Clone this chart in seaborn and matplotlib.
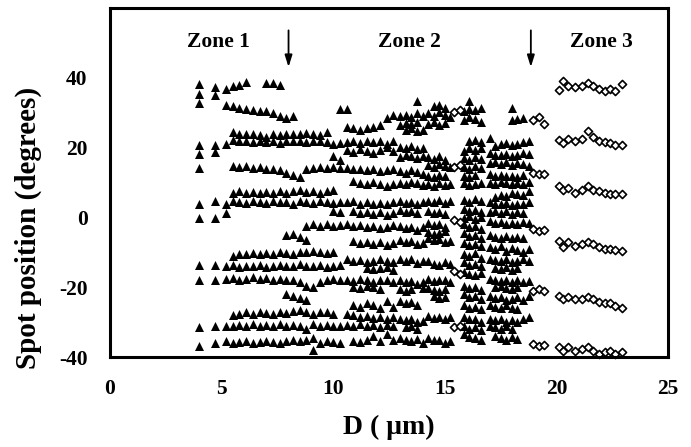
import numpy as np
import pandas as pd
import seaborn as sns
import matplotlib.pyplot as plt
from matplotlib.ticker import MultipleLocator

sns.set_style("white")
plt.rcParams['font.family'] = ['Liberation Serif', 'DejaVu Serif']
plt.rcParams['font.weight'] = 'bold'
plt.rcParams['axes.labelweight'] = 'bold'
plt.rcParams['text.color'] = 'black'
plt.rcParams['axes.labelcolor'] = 'black'
plt.rcParams['xtick.color'] = 'black'
plt.rcParams['ytick.color'] = 'black'
plt.rcParams['axes.unicode_minus'] = False

nan = np.nan

# ---- Zone 1: two sparse columns on the left ----
col_a_x = 4.0
col_a_y = [38.3, 35.5, 32.8, 20.7, 18.1, 14.1, 4.0, 0.0, -13.5, -17.8, -31.4, -36.8]
col_b_x = 4.7
col_b_y = [37.4, 35.1, 20.7, 18.7, 4.6, 0.0, -13.5, -17.8, -31.1, -36.0]

# ---- Zone 1 bands (x columns, one y per column, nan = no spot) ----
z1_x = [5.2, 5.5, 5.8, 6.1, 6.4, 6.7, 7.0, 7.3, 7.6, 7.9, 8.2, 8.5, 8.8, 9.1, 9.4, 9.7, 10.0, 10.3]
z1_rows = [
    [36.8, 37.8, 38.0, 38.8, nan, nan, 38.5, 38.6, 38.0] + [nan] * 9,
    [32.2, 31.8, 31.5, 31.0, 30.8, 30.5, 30.5, 30.0, 29.2, 28.6, 29.0] + [nan] * 6 + [31.2],
    [nan, 24.5, 23.8, 23.8, 24.0, 23.5, 23.2, 23.8, 23.5, 23.8, 24.0, 24.0, 24.2, 24.0, 23.5, 24.5, nan, nan],
    [21.0, 22.2, 22.0, 21.8, 21.5, 22.0, 21.5, 21.8, 21.2, 22.0, 21.8, 22.0, 21.5, 22.0, 21.8, 21.5, 21.0, 21.2],
    [nan] * 16 + [17.5, 16.5],
    [nan, 14.8, 14.5, 14.8, 14.3, 14.5, 14.0, 13.8, 13.5, 12.8, 12.3, 11.5, 14.0, 14.3, 14.5, 14.3, 14.5, 14.2],
    [nan, 7.0, 7.5, 7.0, 7.2, 7.0, 7.2, 7.0, 7.5, 7.0, 7.5, 7.8, 7.2, 7.5, 7.0, 7.5, 8.0, nan],
    [4.0, 4.8, 4.5, 4.2, 4.8, 4.5, 4.2, 4.6, 4.3, 4.5, 4.0, 4.8, 4.5, 4.2, 4.6, 4.5, 4.2, 4.5],
    [1.4] + [nan] * 15 + [1.8, 1.5],
    [nan] * 12 + [-2.5, -2.0, -2.3, -2.0, -2.5, -2.2],
    [nan] * 9 + [-5.0, -4.8, -5.5, -6.5] + [nan] * 5,
    [nan, -11.0, -10.5, -10.5, -10.2, -10.5, -10.3, -10.5, -10.0, -10.3, -10.5, -9.8, -10.0, -9.5, -10.0, -10.2, -10.0, nan],
    [-13.8, -13.5, -14.2, -13.8, -14.0, -13.6, -14.2, -13.8, -13.5, -14.0, -13.8, -13.2, -13.8, -14.0, -13.5, -14.2, -13.8, -13.5],
    [-17.5, -17.2, -17.8, -17.5, -17.0, -17.6, -17.3, -17.8, -17.5, -17.8, -18.0, -18.5, -19.5, -20.0, -18.5, -18.0, -17.5, -18.0],
    [nan] * 9 + [-22.0, -22.5, -23.0, -23.5] + [nan] * 5,
    [nan, -27.8, -27.5, -27.2, -27.5, -27.0, -27.3, -27.5, -27.0, -27.3, -26.8, -26.5, -27.0, -27.5, -27.2, -27.0, -27.5, nan],
    [-31.0, -31.2, -30.8, -31.0, -30.6, -31.2, -30.8, -31.0, -30.5, -31.0, -30.8, -31.2, -32.0, -30.5, -31.0, -30.8, -31.2, -31.0],
    [-35.5, -36.0, -35.8, -35.5, -36.0, -35.7, -35.3, -35.8, -36.0, -35.5, -35.0, -35.5, -35.2, -34.5, -36.0, -35.5, -35.8, -36.0],
    [nan] * 13 + [-38.0] + [nan] * 4,
]

# ---- Zone 2 clusters ----
c1_x = [10.6, 10.9, 11.2, 11.5, 11.8, 12.1, 12.4, 12.7]
c1_rows = [
    [31.0] + [nan] * 7,
    [25.8, 25.5, 25.2, 25.5, 25.8, 26.5, 28.5, 29.4],
    [21.5, 22.0, 21.2, 21.8, 21.5, 22.0, 21.0, 21.8],
    [19.2, 18.8, 19.5, 19.0, 18.5, 19.2, 20.2, 19.0],
    [14.2, 13.8, 14.0, 13.5, 13.8, 13.2, 13.5, 14.0],
    [nan, 10.5, 10.0, 9.5, 10.2, 9.6, 9.0, 9.5],
    [4.3, 4.6, 4.0, 4.5, 3.8, 4.2, 3.8, 4.5],
    [nan, 1.8, 1.2, 1.6, 1.0, 1.5, 0.8, 1.2],
    [-2.0, -2.5, -2.2, -2.8, -2.5, -3.0, -2.6, -2.2],
    [nan, -6.8, -7.2, -7.0, -7.5, -7.0, -7.8, -7.2],
    [-12.0, -12.5, -12.2, -12.8, -12.5, -12.0, -12.4, -12.8],
    [nan, nan, nan, -14.5, -14.8, -14.5, -14.2, -15.0],
    [-17.8, -18.2, -17.5, -18.0, -18.5, -17.8, -18.0, -18.4],
    [nan, -19.8, -20.3, -19.6, -20.0, -20.5, nan, nan],
    [nan, -25.0, -25.5, -24.5, -25.2, -25.8, -24.0, -25.5],
    [-27.5, -28.0, -28.5, -28.2, -28.8, -28.5, -29.0, -28.4],
    [-30.8, -31.0, -30.5, -31.2, -30.8, -31.5, -30.8, -31.0],
    [nan, -35.5, -35.8, -35.2, -34.0, -35.5, -33.5, -35.2],
]

c2_x = [13.0, 13.25, 13.5, 13.75, 14.0]
c2_rows = [
    [nan, nan, nan, 33.4, nan],
    [29.0, 29.5, 28.8, 29.8, 29.2],
    [26.5, 27.2, 26.8, 27.5, nan],
    [nan, 25.0, 25.5, 24.8, 25.2],
    [20.2, 19.8, 20.5, 19.6, 20.0],
    [17.2, 17.8, 17.5, 17.0, 17.6],
    [13.2, 12.8, 13.5, 13.0, 12.6],
    [10.0, 9.5, 10.3, 9.8, 9.2],
    [4.8, 4.2, 4.5, 3.8, 4.3],
    [2.2, 1.6, 2.0, 1.4, nan],
    [-2.5, -3.0, -2.8, -3.5, -2.6],
    [-6.5, -7.0, -6.8, -7.5, -7.2],
    [-11.8, -12.5, -12.0, -13.0, -12.6],
    [-18.0, -18.6, -18.2, -19.0, -18.5],
    [-20.4, -21.0, -20.6, nan, -20.2],
    [-24.0, -24.6, -24.2, -25.0, nan],
    [-29.0, -29.5, -29.2, -30.0, -29.6],
    [nan, -31.5, -31.0, -31.8, nan],
    [-34.5, -35.0, -35.5, -34.8, -36.0],
]

c3_x = [14.25, 14.5, 14.75, 15.0, 15.25]
c3_rows = [
    [nan, 31.8, 32.2, 31.5, nan],
    [29.8, 29.0, 30.2, 29.5, 28.8],
    [26.8, 27.5, 26.5, 27.2, nan],
    [17.2, 16.8, 17.5, 16.5, nan],
    [15.0, 14.5, 15.2, 14.8, 14.5],
    [12.0, 11.5, 12.2, 11.8, nan],
    [9.5, 9.0, 9.8, 9.2, 9.6],
    [4.8, 4.5, 5.0, 4.2, 4.6],
    [1.8, 1.2, 1.5, 1.0, nan],
    [-1.5, -2.2, -2.0, -2.8, nan],
    [-4.2, -4.8, -4.5, -4.0, nan],
    [-6.0, -6.5, -6.2, -7.0, -6.8],
    [-12.5, -13.2, -13.5, -12.8, -13.4],
    [-17.6, -18.2, -18.0, -17.8, -18.5],
    [-20.2, -20.8, -21.0, -20.5, nan],
    [nan, -22.5, -23.0, -22.8, nan],
    [-28.2, -28.8, -28.5, -29.0, -28.6],
    [-34.5, -35.2, -35.0, -36.0, -35.5],
]

c4_x = [15.85, 16.1, 16.35, 16.6]
c4_rows = [
    [nan, 33.4, nan, nan],
    [30.5, 31.2, 30.8, 31.5],
    [28.0, 28.8, 28.2, 27.5],
    [nan, 21.8, 22.2, 21.5],
    [19.0, 19.8, 19.2, 20.0],
    [17.0, 16.5, 17.2, 16.8],
    [14.5, 14.0, 14.8, 14.2],
    [12.0, 11.5, 12.2, nan],
    [9.8, 9.2, 9.5, 10.0],
    [5.0, 4.5, 5.2, 4.8],
    [2.5, 1.8, 2.2, 1.5],
    [-0.2, 0.5, -0.5, 0.2],
    [-2.0, -2.8, -2.5, -3.2],
    [-4.5, -5.2, -5.0, -5.8],
    [-7.2, -7.8, -7.5, -8.2],
    [-10.5, -11.0, -10.2, -11.5],
    [-12.8, -13.5, -13.2, -14.0],
    [-15.5, -16.2, -16.5, -15.8],
    [-19.5, -20.2, -20.0, -20.8],
    [-22.0, -22.8, -22.5, -23.2],
    [-25.0, -25.8, -25.5, -26.2],
    [-28.5, -29.2, -29.0, -29.8],
    [-31.2, -31.8, -31.5, -32.2],
    [-33.5, -34.2, -34.5, -35.0],
]

c5_x = [17.0, 17.25, 17.5, 17.75, 18.0, 18.25, 18.5, 18.75]
c5_rows = [
    [nan, nan, nan, nan, 31.4, nan, nan, nan],
    [nan, nan, nan, nan, 27.8, 28.2, 28.5, nan],
    [22.7, 20.5, 21.0, 21.2, 20.8, 21.0, 21.5, 22.0],
    [18.5, 18.0, 17.8, 18.2, 17.5, 18.0, 18.5, 18.2],
    [15.5, 16.0, 15.2, 15.8, 15.0, 15.5, 15.2, 14.8],
    [12.5, 12.0, 12.2, 11.8, 12.0, 11.5, 12.2, nan],
    [10.0, 9.5, 10.2, 9.8, 9.5, 10.0, 9.6, 10.2],
    [nan, 6.0, 6.5, 6.2, 7.0, 6.8, 6.5, 7.5],
    [4.5, 4.0, 3.8, 4.2, 3.5, 4.0, 3.8, 4.5],
    [1.5, 2.0, 1.2, 1.8, 1.0, 1.5, 1.2, nan],
    [-1.0, -1.5, -1.2, -2.0, -1.5, -1.8, -1.2, -1.5],
    [-5.0, -5.5, -5.8, -5.2, -6.0, -5.5, -5.8, nan],
    [-8.5, -9.0, -8.2, -9.5, -8.8, -9.2, -9.8, -9.0],
    [-11.8, -12.2, -12.5, -12.0, -12.8, -12.4, -12.0, -12.6],
    [nan, -14.5, -14.8, -14.2, -15.0, -14.6, nan, nan],
    [-17.5, -18.0, -18.2, -17.8, -18.5, -18.0, -18.4, -18.2],
    [nan, -20.0, -19.5, -20.2, -20.5, -19.8, nan, nan],
    [-22.5, -23.0, -22.8, -23.5, -23.2, -22.8, -23.5, -22.5],
    [-25.0, -25.5, -26.0, -25.2, -25.8, -26.2, nan, nan],
    [-29.0, -29.5, -29.2, -30.0, -29.5, -29.8, -29.0, -28.5],
    [-31.0, -31.5, -31.8, -31.2, -32.0, nan, nan, nan],
    [nan, -34.0, -34.5, -35.0, -34.2, -34.8, nan, nan],
]

# ---- open diamonds ----
d_mid_x = [15.43, 15.7]
d_mid_rows = [[30.2, 30.9], [14.6, 15.1], [-0.8, -1.2], [-15.2, -16.1], [-31.5, -31.0]]

d_edge_x = [18.95, 19.2, 19.45]
d_edge_rows = [[27.9, 28.8, 26.8], [12.7, 12.4, 12.4], [-3.4, -3.8, -3.6],
               [-21.0, -20.4, -21.0], [-36.3, -36.8, -36.5]]

z3_x = [20.09, 20.31, 20.53, 20.83, 21.13, 21.43, 21.65, 21.88, 22.18, 22.4, 22.63, 22.92]
z3_rows = [
    [36.5, 39.1, 37.7, 37.3, 37.7, 38.6, 37.7, 36.8, 36.3, 36.8, 36.3, 38.2],
    [22.2, 21.2, 22.6, 21.9, 22.6, 24.7, 23.0, 22.0, 21.6, 21.2, 20.9, 20.9],
    [8.9, 8.0, 8.4, 7.1, 8.0, 8.9, 8.0, 7.5, 7.1, 6.7, 6.7, 6.7],
    [-6.6, -8.5, -7.1, -8.1, -7.6, -7.1, -7.6, -8.5, -8.9, -8.9, -9.4, -9.7],
    [-22.4, -23.4, -22.9, -23.4, -23.4, -22.9, -23.4, -24.1, -24.4, -24.4, -25.3, -25.8],
    [-37.1, -38.1, -37.1, -38.1, -37.6, -37.1, -38.1, -39.1, -38.6, -38.1, -39.1, -38.6],
]

zone_labels = ['Zone 1', 'Zone 2', 'Zone 3']
zone_label_x = [4.85, 13.4, 22.0]
arrow_x = [8.0, 18.85]


def grid_points(xs, rows):
    pts = []
    for row in rows:
        for x, y in zip(xs, row):
            if not np.isnan(y):
                pts.append((x, y))
    return pts


tri = [(col_a_x, y) for y in col_a_y] + [(col_b_x, y) for y in col_b_y]
for xs, rows in [(z1_x, z1_rows), (c1_x, c1_rows), (c2_x, c2_rows),
                 (c3_x, c3_rows), (c4_x, c4_rows), (c5_x, c5_rows)]:
    tri += grid_points(xs, rows)
tri_df = pd.DataFrame(tri, columns=['D', 'spot'])

dia = (grid_points(d_mid_x, d_mid_rows) + grid_points(d_edge_x, d_edge_rows)
       + grid_points(z3_x, z3_rows))
dia_df = pd.DataFrame(dia, columns=['D', 'spot'])

fig = plt.figure(figsize=(6.91, 4.47), dpi=100)
ax = fig.add_axes([0.159, 0.201, 0.808, 0.781])

sns.scatterplot(data=tri_df, x='D', y='spot', marker='^', color='black',
                s=42, linewidth=0, ax=ax, clip_on=False)
sns.scatterplot(data=dia_df, x='D', y='spot', marker='D', facecolor='white',
                edgecolor='black', s=17, linewidth=1.2, ax=ax, clip_on=False)

ax.set_xlim(0, 25)
ax.set_ylim(-40, 60)
ax.xaxis.set_major_locator(MultipleLocator(5))
ax.xaxis.set_minor_locator(MultipleLocator(1))
ax.set_yticks([-40, -20, 0, 20, 40])

ax.tick_params(axis='both', which='major', direction='in', length=7, width=2,
               labelsize=15.5, pad=16, colors='black')
ax.tick_params(axis='x', which='minor', direction='in', length=2.5, width=2)
for sp in ax.spines.values():
    sp.set_linewidth(2.2)
    sp.set_color('black')

ax.set_xlabel('D ( \u03bcm)', fontsize=20, labelpad=11)
ax.set_ylabel('Spot position (degrees)', fontsize=21)
ax.yaxis.set_label_coords(-0.122, 0.37)

for lab, lx in zip(zone_labels, zone_label_x):
    ax.text(lx, 50.4, lab, ha='center', va='center', fontsize=15.5, fontweight='bold')
for axx in arrow_x:
    ax.annotate('', xy=(axx, 42.3), xytext=(axx, 54.4),
                arrowprops=dict(arrowstyle='-|>,head_width=0.22,head_length=0.7',
                                color='black', lw=1.3))

fig.savefig('out.png', dpi=100)
plt.close(fig)
